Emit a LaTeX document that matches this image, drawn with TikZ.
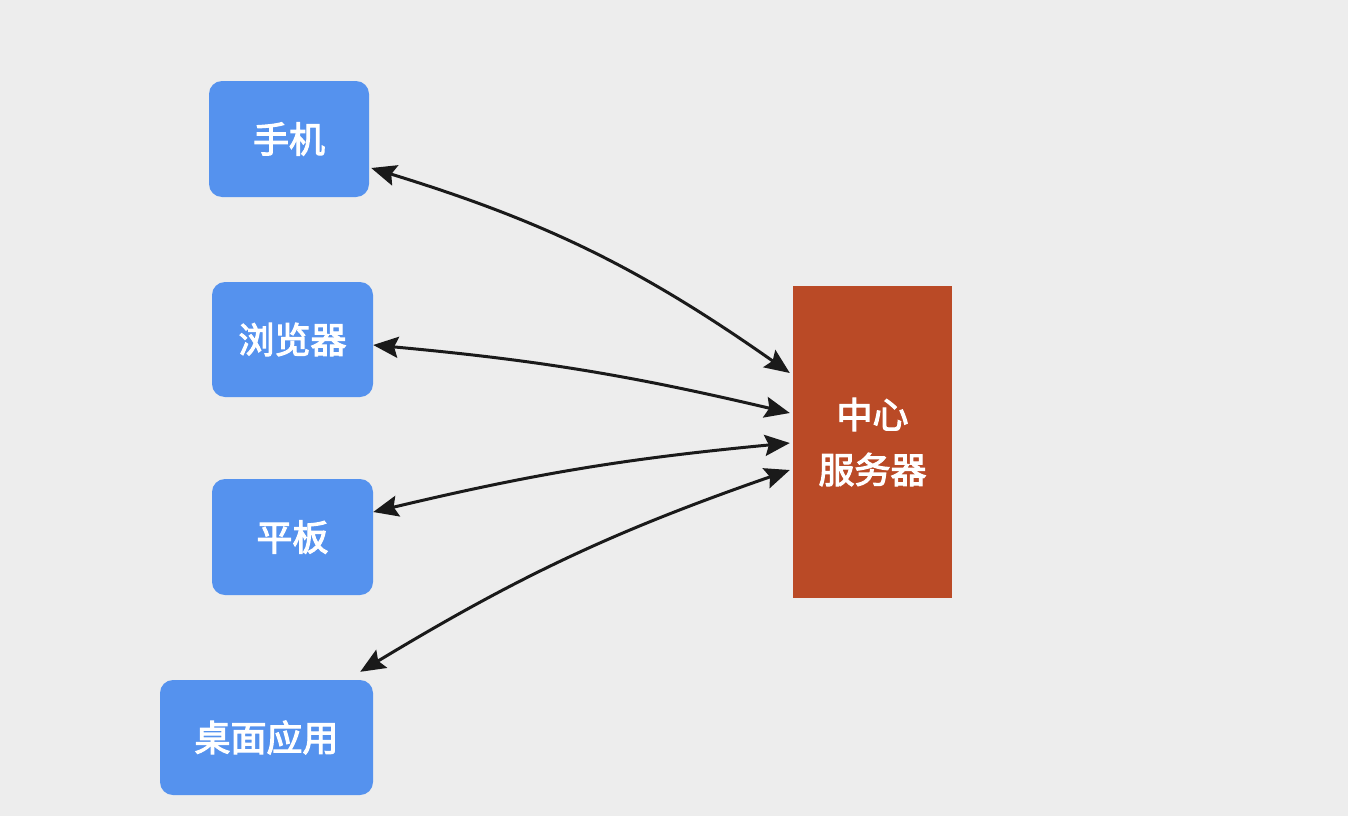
\documentclass[tikz,border=0pt]{standalone}
\usepackage{fontspec}
\newfontfamily\cjk[FakeBold=3]{Noto Sans CJK SC}
\usetikzlibrary{arrows.meta}
\definecolor{bg}{HTML}{EDEDED}
\definecolor{cblue}{HTML}{5592EE}
\definecolor{cred}{HTML}{BA4A26}
\definecolor{ink}{HTML}{1A1A1A}
\tikzset{
  client/.style={fill=cblue, rounded corners=13pt, text=white, font=\cjk\fontsize{36}{40}\selectfont, inner sep=0pt},
  server/.style={fill=cred, text=white, font=\cjk\fontsize{36}{55}\selectfont, align=center, inner sep=0pt, minimum width=159pt, minimum height=312pt},
  link/.style={draw=ink, line width=3pt, {Stealth[length=25pt,width=21pt,inset=4pt]}-{Stealth[length=25pt,width=21pt,inset=4pt]}}
}
\begin{document}
\begin{tikzpicture}[x=1pt,y=-1pt]
\fill[bg] (0,0) rectangle (1348,816);
\useasboundingbox (0,0) rectangle (1348,816);
\node[client, minimum width=160pt, minimum height=116pt] (phone) at (289,139) {手机};
\node[client, minimum width=161pt, minimum height=115pt] (browser) at (292.5,339.5) {浏览器};
\node[client, minimum width=161pt, minimum height=116pt] (tablet) at (292.5,537) {平板};
\node[client, minimum width=213pt, minimum height=115pt] (desktop) at (266.5,737.5) {桌面应用};
\node[server] (srv) at (872.5,442) {中心\\服务器};
\draw[link] ([xshift=2pt,yshift=-29pt]phone.east) to[bend left=9] ([xshift=-3pt,yshift=69pt]srv.west);
\draw[link] ([yshift=-5.5pt]browser.east) to[bend left=4] ([xshift=-3pt,yshift=29pt]srv.west);
\draw[link] ([yshift=25pt]tablet.east) to[bend left=4] ([xshift=-3pt,yshift=-1pt]srv.west);
\draw[link] ([xshift=-13pt,yshift=8pt]desktop.north east) to[bend left=6] ([xshift=-3pt,yshift=-28pt]srv.west);
\end{tikzpicture}
\end{document}
